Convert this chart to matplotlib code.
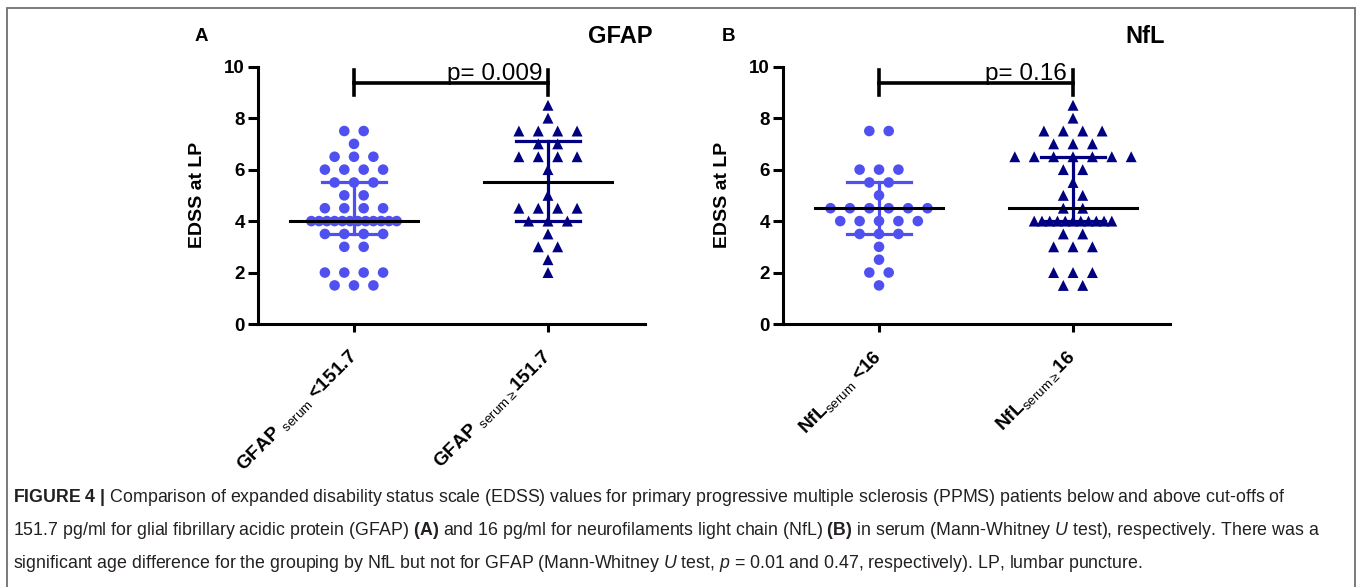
"""EDSS at LP by serum GFAP / NfL cut-off (two column scatter panels)."""

import numpy as np
import matplotlib
matplotlib.use("Agg")
import matplotlib.pyplot as plt
from matplotlib.patches import Rectangle

plt.rcParams["font.family"] = ["Liberation Sans", "DejaVu Sans"]
plt.rcParams["mathtext.fontset"] = "custom"
plt.rcParams["mathtext.rm"] = "Liberation Sans"
plt.rcParams["mathtext.bf"] = "Liberation Sans:bold"
plt.rcParams["mathtext.it"] = "Liberation Sans:italic"

# EDSS values, one entry per patient
gfap_low = [7.5, 7.5, 7.0, 6.5, 6.5, 6.5, 6.0, 6.0, 6.0, 6.0, 5.5, 5.5, 5.5,
            5.0, 5.0, 4.5, 4.5, 4.5, 4.5,
            4.0, 4.0, 4.0, 4.0, 4.0, 4.0, 4.0, 4.0, 4.0, 4.0, 4.0, 4.0,
            3.5, 3.5, 3.5, 3.5, 3.0, 3.0, 2.0, 2.0, 2.0, 2.0, 1.5, 1.5, 1.5]
gfap_high = [8.5, 8.0, 7.5, 7.5, 7.5, 7.5, 7.0, 7.0, 6.5, 6.5, 6.5, 6.5,
             6.0, 5.0, 4.5, 4.5, 4.5, 4.5, 4.0, 4.0, 4.0, 3.5, 3.0, 3.0,
             2.5, 2.0]
nfl_low = [7.5, 7.5, 6.0, 6.0, 6.0, 5.5, 5.5, 5.0,
           4.5, 4.5, 4.5, 4.5, 4.5, 4.5, 4.0, 4.0, 4.0, 4.0, 4.0,
           3.5, 3.5, 3.5, 3.0, 2.5, 2.0, 2.0, 1.5]
nfl_high = [8.5, 8.0, 7.5, 7.5, 7.5, 7.5, 7.0, 7.0, 7.0,
            6.5, 6.5, 6.5, 6.5, 6.5, 6.5, 6.5, 6.0, 6.0, 5.5, 5.0, 5.0,
            4.5, 4.5, 4.0, 4.0, 4.0, 4.0, 4.0, 4.0, 4.0, 4.0, 4.0, 4.0, 4.0,
            3.5, 3.5, 3.0, 3.0, 3.0, 2.0, 2.0, 2.0, 1.5, 1.5]

gfap_ticks = ["GFAP $_{\\mathrm{serum}}$ <151.7",
              "GFAP $_{\\mathrm{serum}\\geq}$151.7"]
nfl_ticks = ["NfL$_{\\mathrm{serum}}$ <16",
             "NfL$_{\\mathrm{serum}\\geq}$16"]
p_gfap = "p= 0.009"
p_nfl = "p= 0.16"

caption = [
    "$\\mathbf{FIGURE\\ 4\\ |}$ Comparison of expanded disability status scale "
    "(EDSS) values for primary progressive multiple sclerosis (PPMS) patients "
    "below and above cut-offs of",
    "151.7 pg/ml for glial fibrillary acidic protein (GFAP) $\\mathbf{(A)}$ and "
    "16 pg/ml for neurofilaments light chain (NfL) $\\mathbf{(B)}$ in serum "
    "(Mann-Whitney $\\mathit{U}$ test), respectively. There was a",
    "significant age difference for the grouping by NfL but not for GFAP "
    "(Mann-Whitney $\\mathit{U}$ test, $\\mathit{p}$ = 0.01 and 0.47, "
    "respectively). LP, lumbar puncture.",
]

LIGHT = "#5050f0"
NAVY = "#000080"


def swarm_x(values, center, pitch=0.04, wide=0.1, max_half=0.33):
    """Spread tied values symmetrically around the column centre."""
    vals = np.asarray(values, dtype=float)
    xs = np.empty_like(vals)
    for v in np.unique(vals):
        idx = np.where(vals == v)[0]
        n = len(idx)
        step = wide
        if (n - 1) * step / 2 > max_half:
            step = pitch
        xs[idx] = center + (np.arange(n) - (n - 1) / 2) * step
    return xs


def draw_panel(ax, low, high, ticks, ptext):
    for i, (vals, col, mk, sz) in enumerate([(low, LIGHT, "o", 58),
                                             (high, NAVY, "^", 62)]):
        ax.scatter(swarm_x(vals, i), vals, s=sz, marker=mk, color=col,
                   edgecolors="none", zorder=2, clip_on=False)
        q1, med, q3 = np.percentile(vals, [25, 50, 75], method="weibull")
        ax.plot([i, i], [q1, q3], color=col, lw=2.3, zorder=3)
        for q in (q1, q3):
            ax.plot([i - 0.165, i + 0.165], [q, q], color=col, lw=2.3,
                    zorder=3)
        ax.plot([i - 0.33, i + 0.33], [med, med], color="black", lw=2.2,
                zorder=4)

    # significance bracket
    ax.plot([0, 1], [9.37, 9.37], color="black", lw=2.6, clip_on=False)
    for x in (0, 1):
        ax.plot([x, x], [8.9, 9.86], color="black", lw=2.6, clip_on=False)
    ax.text(0.97, 9.5, ptext, ha="right", va="baseline", fontsize=17.5,
            clip_on=False)

    ax.set_xlim(-0.495, 1.5)
    ax.set_ylim(0, 10)
    ax.set_yticks([0, 2, 4, 6, 8, 10])
    ax.set_xticks([0, 1])
    ax.set_xticklabels(ticks, rotation=45, ha="right", va="center",
                       rotation_mode="anchor", fontsize=13.8,
                       fontweight="bold")
    for lab in ax.get_yticklabels():
        lab.set_fontweight("bold")
        lab.set_fontsize(13.5)
    for s in ("top", "right"):
        ax.spines[s].set_visible(False)
    for s in ("left", "bottom"):
        ax.spines[s].set_linewidth(2.2)
    ax.tick_params(axis="y", length=7.5, width=2.2, pad=2)
    ax.tick_params(axis="x", length=5.5, width=2.2, pad=16)
    ax.set_ylabel("EDSS at LP", fontsize=14, fontweight="bold")
    ax.yaxis.set_label_coords(-0.135, 0.5)


fig = plt.figure(figsize=(13.57, 5.87), dpi=100)
ax_a = fig.add_axes([0.1901, 0.4480, 0.2852, 0.4384])
ax_b = fig.add_axes([0.5770, 0.4480, 0.2852, 0.4384])

draw_panel(ax_a, gfap_low, gfap_high, gfap_ticks, p_gfap)
draw_panel(ax_b, nfl_low, nfl_high, nfl_ticks, p_nfl)

fig.text(0.1430, 0.937, "A", fontsize=13.5, fontweight="bold", va="center")
fig.text(0.5320, 0.937, "B", fontsize=13.5, fontweight="bold", va="center")
fig.text(0.4812, 0.937, "GFAP", fontsize=17, fontweight="bold",
         va="center", ha="right")
fig.text(0.8587, 0.937, "NfL", fontsize=17, fontweight="bold",
         va="center", ha="right")

for k, line in enumerate(caption):
    fig.text(13 / 1357, 1 - (497 + 33.3 * k) / 587, line, fontsize=12.8,
             color="#231f20", va="center", ha="left")

fig.patches.append(Rectangle((7 / 1357, -0.02), (1355 - 7) / 1357,
                             1 - 8 / 587 + 0.02, transform=fig.transFigure,
                             fill=False, edgecolor="#707070", lw=1.3))

fig.savefig("out.png", dpi=100)
